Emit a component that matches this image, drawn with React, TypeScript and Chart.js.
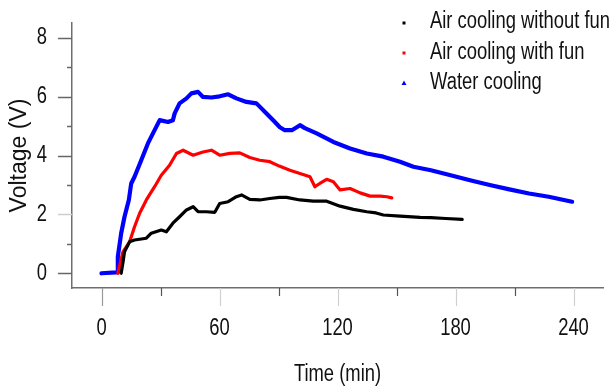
import { useEffect, useRef } from "react";
import { Chart, registerables } from "chart.js";

Chart.register(...registerables);

// ---- data (time in min, voltage in V) ----
const noFanTime = [10.0, 11.0, 11.7, 14.3, 16.8, 22.8, 25.3, 30.4, 33.0, 36.3, 39.7, 43.2, 46.6, 49.1, 53.3, 57.6, 60.1, 64.4, 68.6, 71.2, 75.4, 80.5, 85.6, 90.4, 94.1, 100.9, 107.7, 114.5, 121.3, 128.1, 134.9, 139.6, 143.3, 151.8, 162.0, 167.5, 175.0, 183.4];
const noFanVolt = [0, 0.4, 0.73, 1.07, 1.13, 1.19, 1.36, 1.47, 1.41, 1.70, 1.92, 2.15, 2.26, 2.09, 2.09, 2.07, 2.37, 2.43, 2.60, 2.66, 2.51, 2.49, 2.54, 2.58, 2.58, 2.49, 2.45, 2.45, 2.28, 2.17, 2.09, 2.05, 1.98, 1.94, 1.90, 1.89, 1.86, 1.83];

const fanTime = [8.3, 9.5, 10.9, 14.3, 16.8, 19.4, 22.8, 27.0, 30.4, 34.6, 38.1, 41.5, 46.6, 51.6, 55.9, 60.1, 65.2, 70.3, 75.4, 80.5, 85.6, 90.4, 95.8, 100.9, 106.0, 108.5, 111.0, 114.5, 117.9, 121.3, 126.4, 131.5, 136.6, 141.7, 145.1, 147.6];
const fanVolt = [0, 0.34, 0.73, 1.07, 1.58, 2.04, 2.49, 2.94, 3.33, 3.67, 4.07, 4.18, 4.01, 4.12, 4.18, 4.01, 4.07, 4.09, 3.93, 3.84, 3.79, 3.64, 3.50, 3.39, 3.28, 2.94, 3.05, 3.19, 3.11, 2.83, 2.88, 2.73, 2.62, 2.62, 2.60, 2.56];

const waterTime = [0, 7.5, 8.2, 8.3, 10.0, 11.7, 13.9, 15.1, 16.8, 20.2, 23.6, 27.0, 29.6, 33.8, 36.3, 37.2, 39.7, 43.2, 45.7, 49.1, 51.6, 55.9, 60.1, 64.4, 68.6, 73.7, 78.8, 83.9, 87.3, 90.7, 93.2, 96.8, 100.9, 103.4, 109.4, 117.9, 126.4, 134.9, 143.3, 151.8, 158.6, 167.5, 177.5, 187.4, 197.4, 207.4, 217.4, 227.4, 239.3];
const waterVolt = [0, 0.03, 0.04, 0.56, 1.36, 1.92, 2.49, 3.05, 3.28, 3.84, 4.41, 4.86, 5.20, 5.14, 5.20, 5.43, 5.77, 5.94, 6.11, 6.16, 5.99, 5.97, 6.01, 6.08, 5.94, 5.82, 5.77, 5.43, 5.20, 4.96, 4.86, 4.86, 5.03, 4.93, 4.75, 4.46, 4.24, 4.07, 3.96, 3.79, 3.62, 3.50, 3.33, 3.16, 3.00, 2.85, 2.71, 2.60, 2.43];

const seriesLabels = ["Air cooling without fun", "Air cooling with fun", "Water cooling"];
const seriesColors = ["#000000", "#ff0000", "#0000ff"];

const xTickValues = [0, 60, 120, 180, 240];
const xMinorTicks = [30, 90, 150, 210];
const yTickValues = [0, 2, 4, 6, 8];
const yMinorTicks = [1, 3, 5, 7];
const xTitle = "Time (min)";
const yTitle = "Voltage (V)";

const FONT = "'Liberation Sans', Arial, sans-serif";
const SQUEEZE = 0.8; // horizontally condensed lettering of the original

const toPoints = (t: number[], v: number[]) => t.map((x, i) => ({ x, y: v[i] }));

function narrowText(
  ctx: CanvasRenderingContext2D,
  text: string,
  x: number,
  y: number,
  align: CanvasTextAlign
) {
  ctx.save();
  ctx.translate(x, y);
  ctx.scale(SQUEEZE, 1);
  ctx.textAlign = align;
  ctx.textBaseline = "middle";
  ctx.fillText(text, 0, 0);
  ctx.restore();
}

const decorPlugin = {
  id: "decor",
  afterDraw(chart: any) {
    const ctx = chart.ctx as CanvasRenderingContext2D;
    const xs = chart.scales.x;
    const ys = chart.scales.y;
    const area = chart.chartArea;
    ctx.save();
    // x ticks
    xTickValues.forEach((v, i) => {
      const px = Math.round(xs.getPixelForValue(v)) + 0.5;
      ctx.strokeStyle = i === 0 ? "#9a9a9a" : "#d0d0d0";
      ctx.lineWidth = 1.2;
      ctx.beginPath();
      ctx.moveTo(px, area.bottom);
      ctx.lineTo(px, area.bottom + 18);
      ctx.stroke();
    });
    xMinorTicks.forEach((v) => {
      const px = Math.round(xs.getPixelForValue(v)) + 0.5;
      ctx.strokeStyle = "#555555";
      ctx.lineWidth = 1.2;
      ctx.beginPath();
      ctx.moveTo(px, area.bottom);
      ctx.lineTo(px, area.bottom + 8);
      ctx.stroke();
    });
    // y ticks
    yTickValues.forEach((v) => {
      const py = Math.round(ys.getPixelForValue(v)) + 0.5;
      ctx.strokeStyle = v === 2 ? "#cfcfcf" : "#666666";
      ctx.lineWidth = 1.5;
      ctx.beginPath();
      ctx.moveTo(area.left - 14, py);
      ctx.lineTo(area.left, py);
      ctx.stroke();
    });
    yMinorTicks.forEach((v) => {
      const py = Math.round(ys.getPixelForValue(v)) + 0.5;
      ctx.strokeStyle = "#666666";
      ctx.lineWidth = 1.5;
      ctx.beginPath();
      ctx.moveTo(area.left - 5, py);
      ctx.lineTo(area.left, py);
      ctx.stroke();
    });

    // tick labels and x title
    ctx.fillStyle = "#111111";
    ctx.font = `23px ${FONT}`;
    xTickValues.forEach((v) => {
      narrowText(ctx, String(v), xs.getPixelForValue(v), area.bottom + 41, "center");
    });
    yTickValues.forEach((v) => {
      narrowText(ctx, String(v), area.left - 25, ys.getPixelForValue(v), "right");
    });
    narrowText(ctx, xTitle, (area.left + area.right) / 2, 375, "center");

    // legend
    const rowsY = [22, 53, 83];
    const markerX = 404;
    const textX = 430;
    chart.data.datasets.forEach((ds: any, i: number) => {
      const y = rowsY[i];
      ctx.fillStyle = ds.borderColor;
      if (i === 2) {
        ctx.beginPath();
        ctx.moveTo(markerX, y - 2.5);
        ctx.lineTo(markerX + 2.5, y + 2);
        ctx.lineTo(markerX - 2.5, y + 2);
        ctx.closePath();
        ctx.fill();
      } else {
        ctx.fillRect(markerX - 1.5, y + (i === 0 ? 1 : 0) - 1.5, 3, 3);
      }
      ctx.fillStyle = "#111111";
      narrowText(ctx, ds.label, textX, y, "left");
    });
    ctx.restore();
  },
};

export default function App() {
  const ref = useRef<HTMLCanvasElement | null>(null);
  useEffect(() => {
    if (!ref.current) return;
    const series = [
      toPoints(noFanTime, noFanVolt),
      toPoints(fanTime, fanVolt),
      toPoints(waterTime, waterVolt),
    ];
    const widths = [3.2, 3.2, 4.2];
    const chart = new Chart(ref.current, {
      type: "line",
      data: {
        datasets: series.map((data, i) => ({
          label: seriesLabels[i],
          data,
          borderColor: seriesColors[i],
          backgroundColor: seriesColors[i],
          borderWidth: widths[i],
          pointRadius: 0,
          tension: 0,
          borderJoinStyle: "round" as const,
          borderCapStyle: "round" as const,
          fill: false,
        })),
      },
      options: {
        animation: false,
        responsive: true,
        maintainAspectRatio: false,
        layout: { padding: { top: 23, right: 12, left: 0, bottom: 0 } },
        plugins: {
          legend: { display: false },
          tooltip: { enabled: false },
        },
        scales: {
          x: {
            type: "linear",
            min: -15,
            max: 255,
            afterBuildTicks: (scale: any) => {
              scale.ticks = xTickValues.map((value) => ({ value }));
            },
            afterFit: (scale: any) => {
              scale.height = 99;
              scale.paddingLeft = 0;
              scale.paddingRight = 0;
            },
            grid: { display: false, drawTicks: false },
            border: { display: true, color: "#6e6e6e", width: 1.5 },
            ticks: { display: false },
            title: { display: false },
          },
          y: {
            type: "linear",
            min: -0.5,
            max: 8.5,
            afterBuildTicks: (scale: any) => {
              scale.ticks = yTickValues.map((value) => ({ value }));
            },
            afterFit: (scale: any) => {
              scale.width = 72;
              scale.paddingTop = 0;
              scale.paddingBottom = 0;
            },
            grid: { display: false, drawTicks: false },
            border: { display: true, color: "#6e6e6e", width: 1.5 },
            ticks: { display: false },
            title: {
              display: true,
              text: yTitle,
              color: "#111111",
              font: { family: FONT, size: 23 },
              padding: { top: 6, bottom: 0 },
            },
          },
        },
      },
      plugins: [decorPlugin],
    });
    return () => chart.destroy();
  }, []);

  return (
    <div style={{ position: "absolute", left: 0, top: 0, width: 615, height: 387, background: "#ffffff" }}>
      <canvas ref={ref} />
    </div>
  );
}
